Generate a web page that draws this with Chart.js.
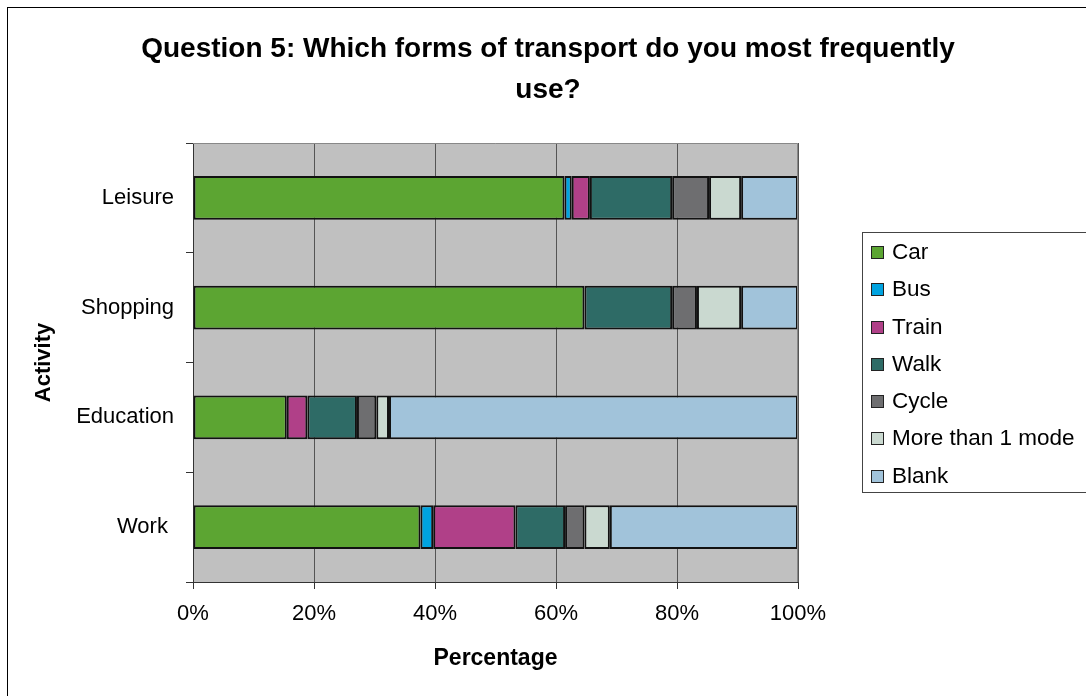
<!DOCTYPE html>
<html>
<head>
<meta charset="utf-8">
<script src="https://cdn.jsdelivr.net/npm/chart.js@4.4.0/dist/chart.umd.min.js"></script>
<style>
  html, body { margin: 0; padding: 0; background: #fff; overflow: hidden; }
  #wrap { position: relative; width: 1086px; height: 696px; font-family: "Liberation Sans", Arial, sans-serif; }
  #frame { position: absolute; left: 7px; top: 7px; width: 1100px; height: 710px; border: 1px solid #000; box-sizing: border-box; }
  #title { position: absolute; left: 48px; top: 27px; width: 1000px; text-align: center; white-space: nowrap;
           font-weight: bold; font-size: 28px; line-height: 41px; color: #000; }
  #legend { position: absolute; left: 862px; top: 232px; width: 240px; height: 261px; border: 1px solid #444;
            box-sizing: border-box; }
  #legend .item { height: 37.3px; line-height: 37.3px; font-size: 22.5px; color: #000; white-space: nowrap; padding-left: 8px; }
  #legend .sw { display: inline-block; width: 11px; height: 11px; border: 1px solid #222; margin-right: 8px; vertical-align: 0px; }
  canvas { position: absolute; left: 0; top: 0; }
</style>
</head>
<body>
<div id="wrap">
  <div id="frame"></div>
  <canvas id="chart" width="1086" height="696"></canvas>
  <div id="title">Question 5: Which forms of transport do you most frequently<br>use?</div>
  <div id="legend"></div>
</div>
<script>
var categories = ['Leisure', 'Shopping', 'Education', 'Work '];
var modes = ['Car', 'Bus', 'Train', 'Walk', 'Cycle', 'More than 1 mode', 'Blank'];
var modeColors = ['#5ca532', '#00a3e0', '#b04088', '#2e6b66', '#6e6e70', '#cad9d0', '#a1c3da'];

// percentages per activity (Leisure, Shopping, Education, Work)
var car = [61.4, 64.7, 15.5, 37.6];
var bus = [1.2, 0, 0, 2.1];
var train = [3.0, 0, 3.4, 13.6];
var walk = [13.6, 14.5, 8.2, 8.2];
var cycle = [6.1, 4.1, 3.2, 3.2];
var moreThanOne = [5.3, 7.3, 2.1, 4.2];
var blank = [9.4, 9.4, 67.6, 31.1];
var seriesValues = [car, bus, train, walk, cycle, moreThanOne, blank];

var xTicks = [0, 20, 40, 60, 80, 100];

var datasets = modes.map(function (m, i) {
  return {
    label: m,
    data: seriesValues[i],
    backgroundColor: modeColors[i],
    borderColor: '#111',
    borderWidth: 2,
    borderSkipped: false
  };
});

// html legend
var legendEl = document.getElementById('legend');
modes.forEach(function (m, i) {
  var d = document.createElement('div');
  d.className = 'item';
  d.innerHTML = '<span class="sw" style="background:' + modeColors[i] + '"></span>' + m;
  legendEl.appendChild(d);
});

var plotBg = {
  id: 'plotBg',
  beforeDraw: function (chart) {
    var a = chart.chartArea, c = chart.ctx;
    c.save();
    c.fillStyle = '#c0c0c0';
    c.fillRect(a.left, a.top, a.right - a.left, a.bottom - a.top);
    c.restore();
  },
  afterDraw: function (chart) {
    var a = chart.chartArea, c = chart.ctx;
    c.save();
    c.strokeStyle = '#888';
    c.lineWidth = 1;
    c.beginPath();
    c.moveTo(a.left, a.top + 0.5);
    c.lineTo(a.right - 0.5, a.top + 0.5);
    c.lineTo(a.right - 0.5, a.bottom);
    c.stroke();
    c.restore();
  }
};

var family = '"Liberation Sans", Arial, sans-serif';
var font = { family: family, size: 22 };

new Chart(document.getElementById('chart'), {
  type: 'bar',
  data: { labels: categories, datasets: datasets },
  plugins: [plotBg],
  options: {
    indexAxis: 'y',
    responsive: false,
    animation: false,
    layout: { padding: { left: 27, right: 288, top: 143, bottom: 20 } },
    plugins: {
      legend: { display: false },
      tooltip: { enabled: false },
      title: { display: false }
    },
    datasets: { bar: { categoryPercentage: 1, barPercentage: 0.4 } },
    scales: {
      x: {
        stacked: true,
        min: 0,
        max: 100,
        afterFit: function (s) { s.height = 676 - 582; },
        afterBuildTicks: function (s) { s.ticks = xTicks.map(function (v) { return { value: v }; }); },
        ticks: {
          color: '#000',
          font: font,
          padding: 12,
          callback: function (v) { return v + '%'; }
        },
        grid: { color: '#555', lineWidth: 1, tickLength: 7, tickColor: '#333' },
        border: { color: '#333', width: 1 },
        title: { display: true, text: 'Percentage', color: '#000', font: { family: family, size: 23, weight: 'bold' } }
      },
      y: {
        stacked: true,
        afterFit: function (s) { s.width = 193 - 27; },
        ticks: { color: '#000', font: font, padding: 12 },
        grid: { drawOnChartArea: false, drawTicks: true, tickLength: 7, color: '#333' },
        border: { color: '#333', width: 1 },
        title: { display: true, text: 'Activity', color: '#000', font: { family: family, size: 22, weight: 'bold' } }
      }
    }
  }
});
</script>
</body>
</html>
